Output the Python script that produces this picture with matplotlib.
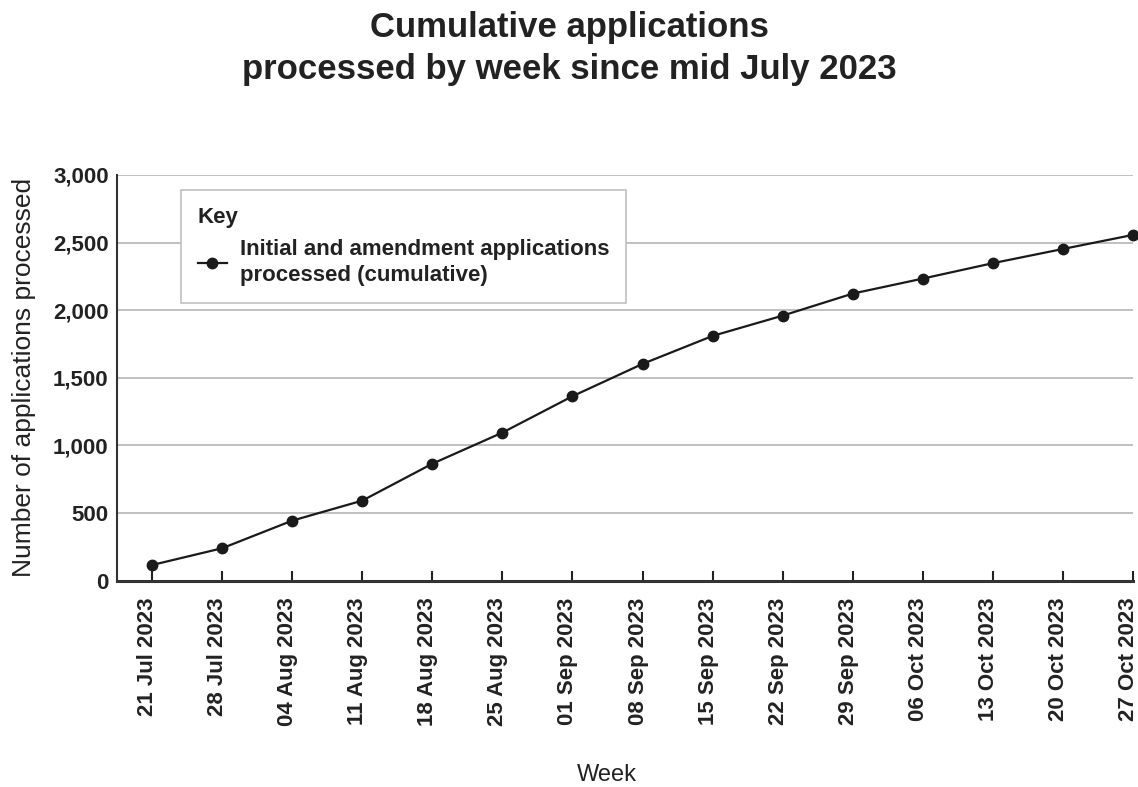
import matplotlib
matplotlib.use("Agg")
import matplotlib.pyplot as plt
from matplotlib.transforms import ScaledTranslation

plt.rcParams['font.family'] = ['Liberation Sans', 'DejaVu Sans']

weeks = ["21 Jul 2023", "28 Jul 2023", "04 Aug 2023", "11 Aug 2023", "18 Aug 2023",
         "25 Aug 2023", "01 Sep 2023", "08 Sep 2023", "15 Sep 2023", "22 Sep 2023",
         "29 Sep 2023", "06 Oct 2023", "13 Oct 2023", "20 Oct 2023", "27 Oct 2023"]
processed = [116, 240, 444, 592, 865, 1095, 1364, 1603, 1810, 1960,
             2123, 2234, 2348, 2453, 2557]
yticks = [0, 500, 1000, 1500, 2000, 2500, 3000]
ytick_labels = ["0", "500", "1,000", "1,500", "2,000", "2,500", "3,000"]
series_label = "Initial and amendment applications\nprocessed (cumulative)"

W, H = 1138, 787
fig = plt.figure(figsize=(W / 100, H / 100), dpi=100)
ax = fig.add_axes([117 / W, 1 - 580.7 / H, (1133 - 117) / W, (580.7 - 175) / H])

x = list(range(len(weeks)))
ax.plot(x, processed, color='#1a1a1a', lw=1.6, marker='o', ms=7.5,
        label=series_label, clip_on=False, zorder=3)

ax.set_xlim(-0.5, len(weeks) - 1)
ax.set_ylim(0, 3000)
ax.set_yticks(yticks)
ax.set_yticklabels(ytick_labels, fontsize=16, fontweight='bold', color='#222222')
ax.set_xticks(x)
ax.set_xticklabels(weeks, rotation=90, fontsize=16, fontweight='bold', color='#222222')

ax.grid(axis='y', color='#b5b5b5', lw=1.2)
ax.set_axisbelow(True)
for s in ['top', 'right']:
    ax.spines[s].set_visible(False)
ax.spines['left'].set_color('#333333')
ax.spines['left'].set_linewidth(1.5)
ax.spines['bottom'].set_color('#333333')
ax.spines['bottom'].set_linewidth(2.2)
ax.tick_params(axis='y', length=0, pad=6)
ax.tick_params(axis='x', direction='in', length=7, width=1.5, color='#222222', pad=12)

shift = ScaledTranslation(-4.5 / 100, 0, fig.dpi_scale_trans)
for lab in ax.get_xticklabels():
    lab.set_transform(lab.get_transform() + shift)

ax.set_ylabel("Number of applications processed", fontsize=19, color='#222222', labelpad=12)
fig.text(607 / W, 1 - 775 / H, "Week", fontsize=17, color='#222222', ha='center', va='center')

fig.text(0.5, 1 - 37 / H, "Cumulative applications", fontsize=25, fontweight='bold',
         color='#222222', ha='center', va='baseline')
fig.text(0.5, 1 - 79 / H, "processed by week since mid July 2023", fontsize=25,
         fontweight='bold', color='#222222', ha='center', va='baseline')

leg = ax.legend(loc='upper left', bbox_to_anchor=((181 - 117) / 1016, (580.7 - 190) / 405.7),
                borderaxespad=0, title="Key", alignment='left', fancybox=False,
                edgecolor='#c0c0c0', framealpha=1, handlelength=1.3, borderpad=0.75,
                handletextpad=0.6, prop={'size': 16, 'weight': 'bold'},
                title_fontproperties={'size': 16, 'weight': 'bold'})
leg.get_frame().set_linewidth(1.2)
for t in leg.get_texts():
    t.set_color('#222222')
    t.set_linespacing(1.35)
leg.get_title().set_color('#222222')

fig.savefig("out.png", dpi=100)
